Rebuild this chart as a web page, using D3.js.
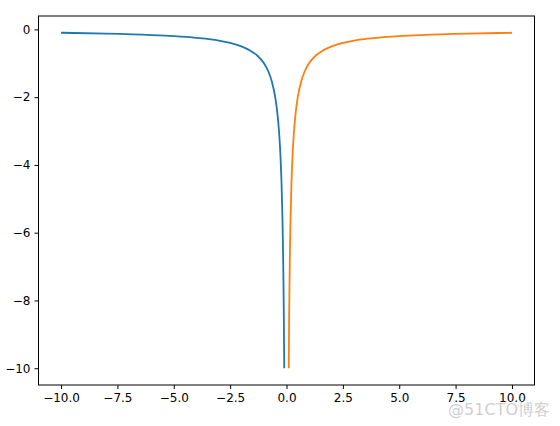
<!DOCTYPE html>
<html>
<head>
<meta charset="utf-8">
<script src="https://cdn.jsdelivr.net/npm/d3@7"></script>
<style>
  body { margin: 0; background: #fff; }
  text { font-family: "DejaVu Sans", sans-serif; }
</style>
</head>
<body>
<div id="chart"></div>
<script>
// values
var blueX = [-10, -8, -6, -5, -4, -3, -2.5, -2, -1.6, -1.3, -1, -0.8, -0.65, -0.5, -0.4, -0.33, -0.27, -0.22, -0.18, -0.15, -0.13, -0.115, -0.1]
var blueY = [-0.1, -0.125, -0.167, -0.2, -0.25, -0.33, -0.4, -0.5, -0.63, -0.77, -1, -1.25, -1.54, -2, -2.5, -3.03, -3.7, -4.55, -5.56, -6.67, -7.69, -8.7, -10]
var orangeX = [0.1, 0.115, 0.13, 0.15, 0.18, 0.22, 0.27, 0.33, 0.4, 0.5, 0.65, 0.8, 1, 1.3, 1.6, 2, 2.5, 3, 4, 5, 6, 8, 10]
var orangeY = [-10, -8.7, -7.69, -6.67, -5.56, -4.55, -3.7, -3.03, -2.5, -2, -1.54, -1.25, -1, -0.77, -0.63, -0.5, -0.4, -0.33, -0.25, -0.2, -0.167, -0.125, -0.1]
var xTicks = [-10, -7.5, -5, -2.5, 0, 2.5, 5, 7.5, 10]
var yTicks = [0, -2, -4, -6, -8, -10]

var width = 560, height = 426
var m = {left: 38.5, right: 560 - 534.5, top: 16, bottom: 426 - 385}

var svg = d3.select("#chart").append("svg")
    .attr("width", width)
    .attr("height", height)

var x = d3.scaleLinear().domain([-11, 11]).range([m.left, width - m.right])
var y = d3.scaleLinear().domain([-10.495, 0.395]).range([height - m.bottom, m.top])

var line = d3.line()
    .x(function(d) { return x(d[0]) })
    .y(function(d) { return y(d[1]) })
    .curve(d3.curveMonotoneX)

svg.append("path")
    .datum(d3.zip(blueX, blueY))
    .attr("d", line)
    .attr("fill", "none")
    .attr("stroke", "#1f77b4")
    .attr("stroke-width", 1.8)

svg.append("path")
    .datum(d3.zip(orangeX, orangeY))
    .attr("d", line)
    .attr("fill", "none")
    .attr("stroke", "#ff7f0e")
    .attr("stroke-width", 1.8)

// axes
svg.append("g")
    .attr("transform", "translate(0," + (height - m.bottom) + ")")
    .call(d3.axisBottom(x).tickValues(xTicks).tickSizeOuter(0).tickSize(4).tickPadding(4)
      .tickFormat(function(d) { return d3.format(".1f")(d).replace("-", "\u2212") }))

svg.append("g")
    .attr("transform", "translate(" + m.left + ",0)")
    .call(d3.axisLeft(y).tickValues(yTicks).tickSizeOuter(0).tickSize(4).tickPadding(4)
      .tickFormat(function(d) { return String(d).replace("-", "\u2212") }))

svg.selectAll(".tick text")
    .attr("font-size", 12)
    .attr("font-family", "DejaVu Sans, sans-serif")
    .attr("fill", "#000")
svg.selectAll(".tick line").attr("stroke", "#000")
svg.selectAll(".domain").remove()

// frame
svg.append("rect")
    .attr("x", m.left)
    .attr("y", m.top)
    .attr("width", width - m.left - m.right)
    .attr("height", height - m.top - m.bottom)
    .attr("fill", "none")
    .attr("stroke", "#000")
    .attr("stroke-width", 1)

// watermark
svg.append("text")
    .attr("x", 550)
    .attr("y", 415)
    .attr("text-anchor", "end")
    .attr("font-size", 16)
    .attr("font-family", "'Noto Sans CJK SC', 'DejaVu Sans', sans-serif")
    .attr("fill", "#cfcfcf")
    .text("@51CTO博客")
</script>
</body>
</html>
